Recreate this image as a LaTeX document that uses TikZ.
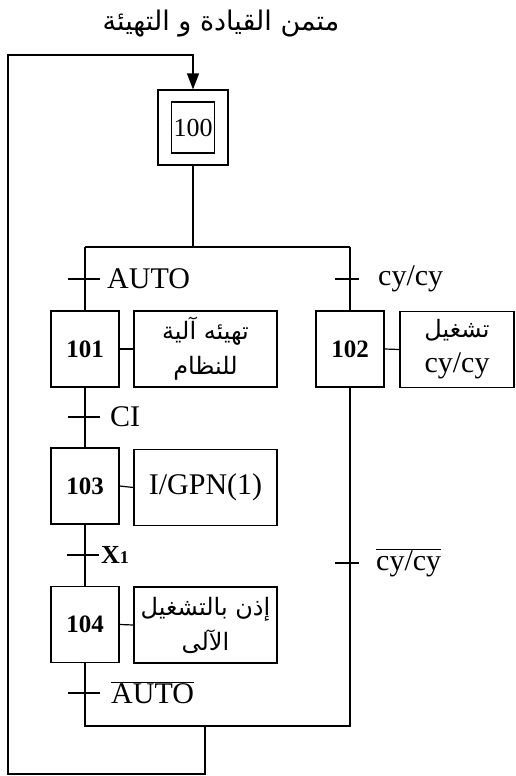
\documentclass[tikz,border=0pt]{standalone}
\usepackage{fontspec}
\setmainfont{Liberation Serif}
\newfontfamily\arabicfont[Script=Arabic]{DejaVu Sans}
\TeXXeTstate=1
\usetikzlibrary{arrows.meta,positioning}

\tikzset{
  etape/.style={draw,inner sep=0pt,minimum width=68pt,minimum height=76pt,font=\fontsize{25}{28}\selectfont\bfseries},
  action/.style={draw,inner sep=0pt,minimum height=76pt,align=center,font=\fontsize{24}{35}\selectfont\arabicfont},
  trans/.style={fill=black,inner sep=0pt,minimum width=32pt,minimum height=1.2pt},
  recept/.style={inner sep=0pt,font=\fontsize{30}{34}\selectfont},
}

\begin{document}
\begin{tikzpicture}[x=1pt,y=-1pt,line width=1.2pt]
\path[use as bounding box] (0,0) rectangle (515,776);
\node[inner sep=0pt,font=\fontsize{27}{30}\selectfont\arabicfont] (titre) at (221,24) {\beginR متمن القيادة و التهيئة\endR};
% initial step
\node[draw,minimum width=70pt,minimum height=75pt] (e100) at (193,127.5) {};
\node[draw,inner sep=0pt,minimum width=43pt,minimum height=51pt,font=\fontsize{26}{28}\selectfont] (e100i) at (e100.center) {100};
% steps and actions
\node[etape] (e101) at (85,349) {101};
\node[etape] (e102) at (350,349) {102};
\node[etape] (e103) at (85,486) {103};
\node[etape] (e104) at (85,624.5) {104};
\node[action,minimum width=143pt] (a101) at (205.5,349) {\beginR تهيئه آلية\endR\\\beginR للنظام\endR};
\node[action,minimum width=114pt] (a102) at (457,349.5) {\beginR تشغيل\endR\\{\rmfamily\fontsize{30}{30}\selectfont cy/cy}};
\node[action,minimum width=143pt,font=\fontsize{30}{34}\selectfont] (a103) at (205.5,487.5) {I/GPN(1)};
\node[action,minimum width=143pt] (a104) at (205.5,625) {\beginR إذن بالتشغيل\endR\\\beginR الآلى\endR};
\draw (e101.east) -- (a101.west);
\draw (e102.east) -- (a102.west);
\draw (e103.east) -- (a103.west);
\draw (e104.east) -- (a104.west);
% transitions
\node[trans] (tAuto) at (84,279) {};
\node[trans] (tCI) at (84,417) {};
\node[trans] (tX) at (83,555) {};
\node[trans] (tNAuto) at (84,693) {};
\node[trans,minimum width=24pt] (tCy) at (347,279) {};
\node[trans,minimum width=24pt] (tNCy) at (347,563) {};
\node[recept,right=6pt of tAuto] (rAuto) {AUTO};
\node[recept,right=9pt of tCI] (rCI) {CI};
\node[recept,right=1pt of tX,font=\fontsize{26}{30}\selectfont\bfseries] (rX) {X\fontsize{18}{20}\selectfont 1};
\node[recept,right=10pt of tNAuto] (rNAuto) {$\overline{\mbox{AUTO}}$};
\node[recept,right=18pt of tCy] (rCy) {cy/cy};
\node[recept,right=16pt of tNCy] (rNCy) {$\overline{\mbox{cy/cy}}$};
% divergence / convergence and loop
\coordinate (divG) at (85,247);
\coordinate (divD) at (350,247);
\coordinate (convG) at (85,726);
\coordinate (convD) at (350,726);
\coordinate (retour) at (205,774);
\coordinate (basG) at (8,774);
\coordinate (hautG) at (8,55);
\draw (e100.south) -- (e100.south |- divG);
\draw (divG) -- (divD);
\draw (divG) -- (e101.north);
\draw (divD) -- (e102.north);
\draw (e101.south) -- (e103.north);
\draw (e103.south) -- (e104.north);
\draw (e104.south) -- (convG) -- (convD) -- (e102.south);
\draw[-{Triangle[length=16pt,width=12pt]}] (retour |- convG) -- (retour) -- (basG) -- (hautG) -| (e100.north);
\end{tikzpicture}
\end{document}
